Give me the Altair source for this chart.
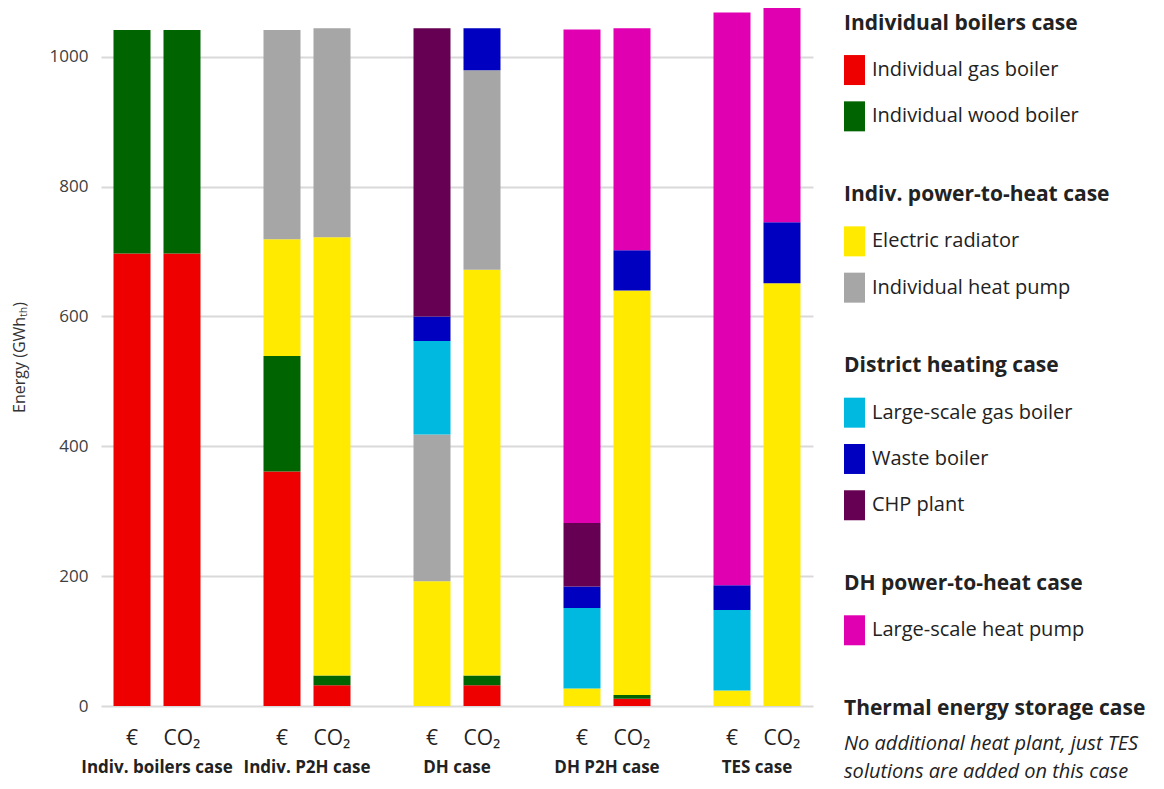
import altair as alt
import pandas as pd

# ---------------- data ----------------
cases = ["Indiv. boilers case", "Indiv. P2H case", "DH case", "DH P2H case", "TES case"]
options = ["€", "CO₂"]

techs = ["Individual gas boiler", "Individual wood boiler", "Electric radiator",
         "Individual heat pump", "Large-scale gas boiler", "Waste boiler",
         "CHP plant", "Large-scale heat pump"]
colors = ["#EE0000", "#006400", "#FFEA00", "#A6A6A6", "#00B9E0", "#0000C0",
          "#660052", "#E000B2"]

# values per bar: (case, option) in order
gas_boiler   = [697, 697, 361, 32, 0, 32, 0, 11, 0, 0]
wood_boiler  = [344, 344, 178, 15, 0, 15, 0, 6, 0, 0]
radiator     = [0, 0, 180, 675, 192, 625, 27, 623, 24, 651]
indiv_hp     = [0, 0, 322, 322, 226, 307, 0, 0, 0, 0]
ls_gas       = [0, 0, 0, 0, 144, 0, 124, 0, 124, 0]
waste        = [0, 0, 0, 0, 38, 65, 33, 62, 38, 94]
chp          = [0, 0, 0, 0, 444, 0, 98, 0, 0, 0]
ls_hp        = [0, 0, 0, 0, 0, 0, 760, 342, 882, 335]

series = [gas_boiler, wood_boiler, radiator, indiv_hp, ls_gas, waste, chp, ls_hp]

legend_groups = [
    ("Individual boilers case", ["Individual gas boiler", "Individual wood boiler"]),
    ("Indiv. power-to-heat case", ["Electric radiator", "Individual heat pump"]),
    ("District heating case", ["Large-scale gas boiler", "Waste boiler", "CHP plant"]),
    ("DH power-to-heat case", ["Large-scale heat pump"]),
    ("Thermal energy storage case", []),
]
tes_note = ["No additional heat plant, just TES", "solutions are added on this case"]

FONT = "Open Sans"
TXT = "#222222"

# ---------------- main chart ----------------
rows = []
bars = [(c, o) for c in cases for o in options]
for ti, (t, vals) in enumerate(zip(techs, series)):
    for bi, (c, o) in enumerate(bars):
        rows.append({"case": c, "option": o, "tech": t, "order": ti, "value": vals[bi]})
df = pd.DataFrame(rows)

H = 698
W = 712

x_enc = alt.X("case:N", sort=cases,
              scale=alt.Scale(paddingInner=1/3, paddingOuter=0.04),
              axis=alt.Axis(title=None, ticks=False, domain=False, labelAngle=0,
                            labelFont=FONT, labelFontSize=17, labelFontWeight="bold",
                            labelColor=TXT, labelPadding=53))
xo_enc = alt.XOffset("option:N", sort=options,
                     scale=alt.Scale(paddingInner=0.26, paddingOuter=0.13))

bars_chart = alt.Chart(df).mark_bar(clip=True).encode(
    x=x_enc,
    xOffset=xo_enc,
    y=alt.Y("value:Q", stack="zero",
            scale=alt.Scale(domain=[0, 1075], nice=False),
            axis=alt.Axis(values=[0, 200, 400, 600, 800, 1000], format="d",
                          title="Energy (GWhₜₕ)",
                          grid=True, gridColor="#D9D9D9", gridWidth=2,
                          domain=False, ticks=False, labelPadding=13,
                          labelFont=FONT, labelFontSize=17, labelColor="#404040",
                          titleFont=FONT, titleFontSize=16, titleFontWeight="normal",
                          titleColor="#333333", titlePadding=22)),
    color=alt.Color("tech:N", scale=alt.Scale(domain=techs, range=colors), legend=None),
    order=alt.Order("order:Q"),
)

opt_df = pd.DataFrame([{"case": c, "option": o} for c, o in bars])
opt_text = alt.Chart(opt_df).mark_text(
    font=FONT, fontSize=21, color=TXT, baseline="middle"
).encode(
    x=alt.X("case:N", sort=cases),
    xOffset=alt.XOffset("option:N", sort=options),
    y=alt.value(H + 33),
    text="option:N",
)

main = alt.layer(bars_chart, opt_text).properties(width=W, height=H)

# ---------------- custom legend ----------------
leg_rows = []
r = 0.0
for gi, (title, items) in enumerate(legend_groups):
    leg_rows.append({"kind": "head", "label": title, "row": r, "color": "#000"})
    for it in items:
        r += 1.0
        leg_rows.append({"kind": "item", "label": it, "row": r,
                         "color": colors[techs.index(it)]})
    if gi == len(legend_groups) - 1:
        r += 0.76
        leg_rows.append({"kind": "note", "label": tes_note, "row": r, "color": "#000"})
    r += 1.7
leg_df = pd.DataFrame(leg_rows)

LH = 776
yscale = alt.Scale(domain=[-0.34, 16.42], reverse=True, nice=False, zero=False)
ybase = alt.Y("row:Q", scale=yscale, axis=None)

heads = alt.Chart(leg_df).transform_filter("datum.kind == 'head'").mark_text(
    font=FONT, fontSize=21, fontWeight="bold", color=TXT, align="left", baseline="middle"
).encode(x=alt.value(0), y=ybase, text="label:N")

squares = alt.Chart(leg_df).transform_filter("datum.kind == 'item'").mark_point(
    shape="M-0.7,-1L0.7,-1L0.7,1L-0.7,1Z", filled=True, size=900, opacity=1
).encode(x=alt.value(10.5), y=ybase,
         color=alt.Color("label:N", scale=alt.Scale(domain=techs, range=colors), legend=None))

items_t = alt.Chart(leg_df).transform_filter("datum.kind == 'item'").mark_text(
    font=FONT, fontSize=20, color=TXT, align="left", baseline="middle"
).encode(x=alt.value(28), y=ybase, text="label:N")

note = alt.Chart(leg_df).transform_filter("datum.kind == 'note'").mark_text(
    font=FONT, fontSize=20, fontStyle="italic", color=TXT, align="left",
    baseline="middle", lineHeight=28
).encode(x=alt.value(0), y=ybase, text="label")

legend = alt.layer(heads, squares, items_t, note).properties(width=310, height=LH)

chart = alt.hconcat(main, legend, spacing=31).properties(
    padding={"left": 3, "top": 0, "right": 0, "bottom": 0}
).configure(font=FONT).configure_view(stroke=None)

chart.save("out.html", embed_options={"renderer": "svg", "actions": False})
